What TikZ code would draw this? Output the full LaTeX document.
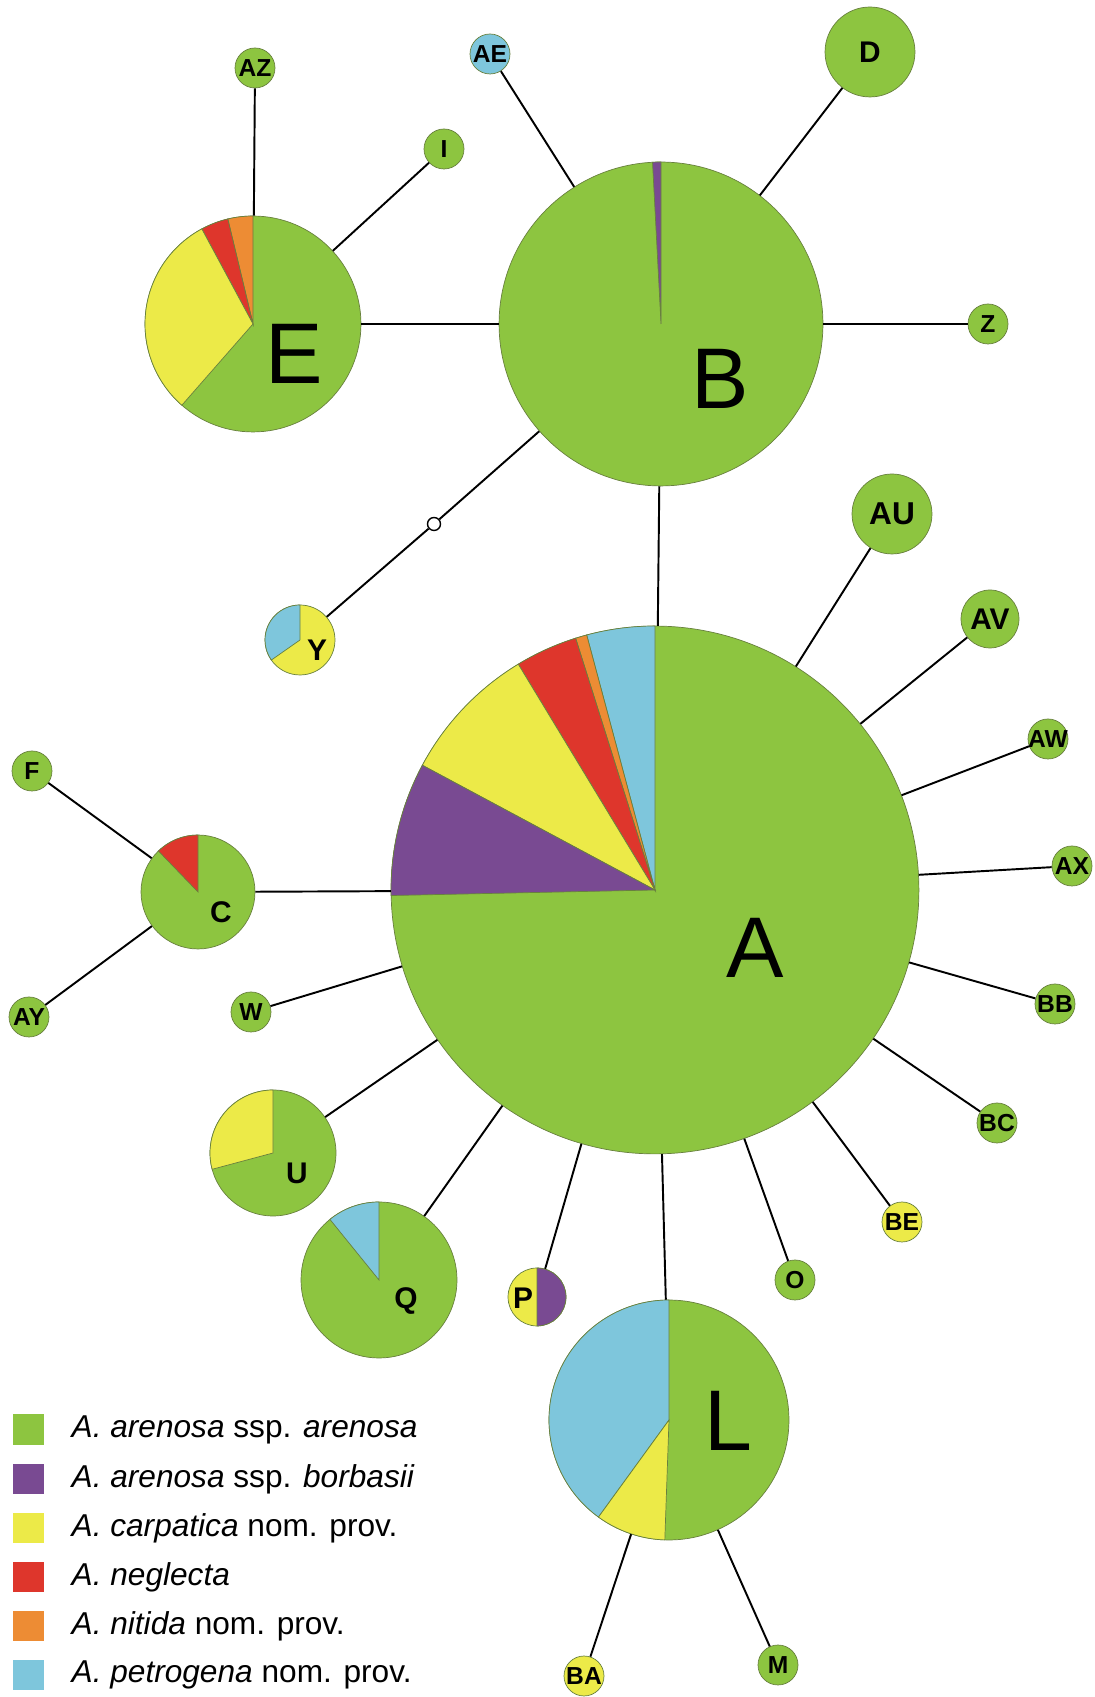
\documentclass[tikz,border=0pt]{standalone}
\usepackage{fontspec}
\setmainfont{Liberation Sans}
\usetikzlibrary{positioning}
\definecolor{arenosa}{RGB}{141,197,64}
\definecolor{borbasii}{RGB}{121,74,146}
\definecolor{carpatica}{RGB}{236,234,72}
\definecolor{neglecta}{RGB}{222,54,44}
\definecolor{nitida}{RGB}{237,140,52}
\definecolor{petrogena}{RGB}{126,198,220}
\definecolor{edgec}{RGB}{104,128,62}

\tikzset{
  hap/.style={circle,draw=edgec,line width=0.4pt,fill=arenosa,inner sep=0pt,
    minimum size=#1*0.04cm,font=\fontsize{14}{14}\selectfont\bfseries},
  link/.style={black,line width=1.1pt},
  big/.style={font=\fontsize{49}{49}\selectfont,inner sep=0pt},
  mid/.style={font=\fontsize{17}{17}\selectfont\bfseries,inner sep=0pt},
  sqbox/.style={minimum size=0.62cm,inner sep=0pt},
  legtxt/.style={font=\fontsize{18}{18}\selectfont,inner sep=0pt},
}

\begin{document}
\begin{tikzpicture}[x=0.02cm,y=0.02cm]
  \useasboundingbox (0,0) rectangle (1095,1697);

  % haplotypes
  \node[hap=264] (A) at (655,807) {};
  \node[hap=162] (B) at (661,1373) {};
  \node[hap=108] (E) at (253,1373) {};
  \node[hap=120] (L) at (669,277) {};
  \node[hap=78] (Q) at (379,417) {};
  \node[hap=63] (U) at (273,544) {};
  \node[hap=57] (C) at (198,805) {};
  \node[hap=35,fill=carpatica] (Y) at (300,1057) {};
  \node[hap=29,fill=carpatica] (P) at (537,400) {};
  \node[hap=45,font=\fontsize{17}{17}\selectfont\bfseries] (D) at (870,1645) {D};
  \node[hap=40,font=\fontsize{18}{18}\selectfont\bfseries] (AU) at (892,1183) {AU};
  \node[hap=29,font=\fontsize{17}{17}\selectfont\bfseries] (AV) at (990,1078) {AV};
  \node[hap=20] (AZ) at (255,1629) {AZ};
  \node[hap=20,fill=petrogena] (AE) at (490,1643) {AE};
  \node[hap=20] (I) at (444,1548) {I};
  \node[hap=20] (Z) at (988,1373) {Z};
  \node[hap=20] (AW) at (1048,958) {\makebox[0pt]{AW}};
  \node[hap=20] (AX) at (1072,831) {AX};
  \node[hap=20] (BB) at (1055,693) {BB};
  \node[hap=20] (BC) at (997,574) {BC};
  \node[hap=20,fill=carpatica] (BE) at (902,475) {BE};
  \node[hap=20] (O) at (795,417) {O};
  \node[hap=20] (M) at (778,32) {M};
  \node[hap=20,fill=carpatica] (BA) at (584,21) {BA};
  \node[hap=20] (F) at (32,926) {F};
  \node[hap=20] (AY) at (29,680) {AY};
  \node[hap=20] (W) at (251,685) {W};
  \node[circle,draw=black,fill=white,line width=0.8pt,inner sep=0pt,minimum size=0.26cm] (mv) at (434,1173) {};

  % pie slices
  \foreach \h/\r/\a/\b/\c in {A/264/90/105/petrogena,A/264/105/107.5/nitida,A/264/107.5/121.2/neglecta,
      A/264/121.2/151.8/carpatica,A/264/151.8/181.2/borbasii,
      E/108/90/103.5/nitida,E/108/103.5/118.3/neglecta,E/108/118.3/228.8/carpatica,
      B/162/90/93/borbasii,L/120/90/234/petrogena,L/120/234/268/carpatica,
      Q/78/90/129/petrogena,U/63/90/195/carpatica,C/57/90/134/neglecta,
      Y/35/90/215/petrogena,P/29/-90/90/borbasii}
    \filldraw[fill=\c,draw=edgec,line width=0.4pt] (\h.center) -- ++(\a:\r)
      arc[start angle=\a,end angle=\b,radius=\r] -- cycle;

  \node[big] (Atxt) at (755,749) {A};
  \node[big] (Btxt) at (720,1318) {B};
  \node[big] (Etxt) at (294,1343) {E};
  \node[big] (Ltxt) at (728,276) {L};
  \node[mid] (Qtxt) at (406,396) {Q};
  \node[mid] (Utxt) at (297,524) {U};
  \node[mid] (Ctxt) at (221,785) {C};
  \node[mid] (Ytxt) at (317,1047) {Y};
  \node[mid] (Ptxt) at (523,399) {P};

  % links
  \foreach \s/\t in {E/AZ,E/I,E/B,B/AE,B/D,B/Z,B/A,A/C,C/F,C/AY,A/W,A/U,A/Q,A/P,A/L,
      A/O,A/BE,A/BC,A/BB,A/AX,A/AW,A/AV,A/AU,L/BA,L/M}
    \draw[link] (\s) -- (\t);
  \draw[link] (Y) -- (mv) -- (B);

  % legend
  \foreach \c/\t [count=\i] in {arenosa/{\textit{A. arenosa} ssp. \textit{arenosa}},
      borbasii/{\textit{A. arenosa} ssp. \textit{borbasii}},
      carpatica/{\textit{A. carpatica} nom. prov.},
      neglecta/{\textit{A. neglecta}},
      nitida/{\textit{A. nitida} nom. prov.},
      petrogena/{\textit{A. petrogena} nom. prov.}} {
    \node[sqbox,fill=\c] (sq\i) at (28.5,{316-49*\i}) {};
    \node[legtxt,right=0.54cm of sq\i] (lg\i) {\t};
  }
\end{tikzpicture}
\end{document}
